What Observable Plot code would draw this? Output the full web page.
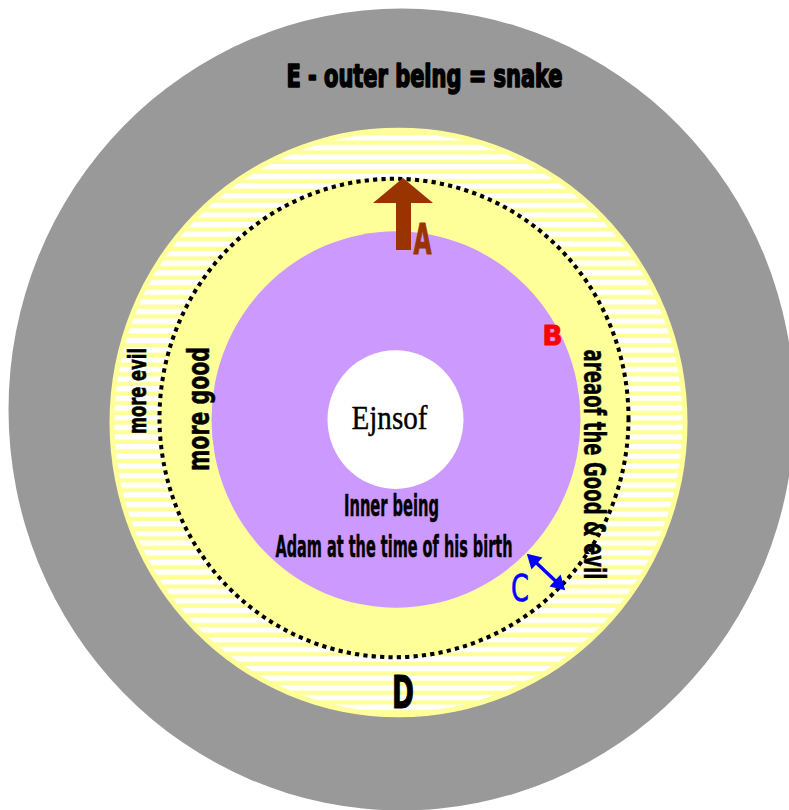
<!DOCTYPE html>
<html><head><meta charset="utf-8">
<script src="https://cdn.jsdelivr.net/npm/d3@7"></script>
<script src="https://cdn.jsdelivr.net/npm/@observablehq/plot@0.6"></script>
<style>
html,body{margin:0;padding:0;background:#fff;}
#chart svg{display:block;}
</style></head><body><div id="chart"></div>
<script>
// ---- Data (in reference pixel units) ----
const ringNames   = ["E outer being", "area of the Good & evil", "more good", "inner being", "Ejnsof"];
const ringCenterX = [401, 398, 393.5, 395.5, 395];
const ringCenterY = [409, 422, 417.5, 419, 419];
const ringRadius  = [393, 289, 234.5, 184.5, 68];
const ringColors  = ["#999999", "#ffff99", "#ffff99", "#cc99ff", "#ffffff"];
const stripeRadius = 284; // striped band of the yellow ring (inset from its edge)

// arrow A (brown, pointing up): x positions and y positions (tail, head base, tip)
const arrowAShaftX = [396, 411];
const arrowAHeadX  = [373, 403, 433];
const arrowAY      = [250, 203, 178];
// arrow C (blue, two-headed): start and end points
const arrowCX = [528, 563];
const arrowCY = [555, 588];

// labels
const labelText   = ["E - outer being = snake", "A", "B", "C", "D", "Ejnsof", "Inner being",
                     "Adam at the time of his birth", "more evil", "more good", "areaof the Good & evil"];
const labelX      = [424, 422, 552, 519.5, 402.5, 389, 391, 393.5, 145, 208, 583];
const labelY      = [86.5, 253, 344, 600, 707, 428, 515, 556, 390.5, 408.5, 464];
const labelLength = [276, 18, 20, 18, 22, 76, 95, 237, 86, 124, 230];

// ---- Build ----
const W = 789, H = 810, SVG_H = 794;
const sy = H / SVG_H;
const rings = ringNames.map((name, i) => ({name, cx: ringCenterX[i], cy: ringCenterY[i], r: ringRadius[i]}));
const stripeDisk = [{cx: ringCenterX[1], cy: ringCenterY[1], r: stripeRadius}];
const headPts = arrowAHeadX.map((x, i) => ({x, base: arrowAY[1], top: i === 1 ? arrowAY[2] : arrowAY[1]}));
const ang = Math.atan2(arrowCY[1] - arrowCY[0], arrowCX[1] - arrowCX[0]);
const headBack = 7;
const cHeads = [
  {x: arrowCX[0] + headBack * Math.cos(ang), y: arrowCY[0] + headBack * Math.sin(ang), rot: ang * 180 / Math.PI - 90},
  {x: arrowCX[1] - headBack * Math.cos(ang), y: arrowCY[1] - headBack * Math.sin(ang), rot: ang * 180 / Math.PI + 90}
];

const NARROW = "'Liberation Sans Narrow','DejaVu Sans Condensed','DejaVu Sans',sans-serif";
const SERIF = "'Liberation Serif','DejaVu Serif',serif";
function label(i, o) {
  return Plot.text([labelText[i]], {
    x: () => labelX[i], y: () => labelY[i], text: d => d,
    lineAnchor: "bottom", textAnchor: "middle", fontFamily: NARROW, fill: "#000", ...o
  });
}

const svg = Plot.plot({
  width: W, height: SVG_H, margin: 0,
  x: {type: "linear", domain: [0, W], range: [0, W], axis: null},
  y: {type: "linear", domain: [0, H], range: [0, SVG_H], axis: null},
  r: {type: "linear", domain: [0, 400], range: [0, 400]},
  color: {type: "ordinal", domain: ringNames, range: ringColors},
  marks: [
    Plot.dot(rings, {filter: (d, i) => i < 2, x: "cx", y: "cy", r: "r", fill: "name"}),
    Plot.dot(stripeDisk, {x: "cx", y: "cy", r: "r", fill: "url(#stripes)"}),
    Plot.dot(rings, {filter: (d, i) => i >= 2, x: "cx", y: "cy", r: "r", fill: "name"}),
    Plot.dot(rings, {filter: (d, i) => i === 2, x: "cx", y: "cy", r: "r", fill: "none",
      stroke: "#000", strokeWidth: 4, strokeDasharray: "4.2,4.2"}),
    // arrow A
    Plot.rect([0], {x1: () => arrowAShaftX[0], x2: () => arrowAShaftX[1], y1: () => arrowAY[1], y2: () => arrowAY[0], fill: "#993300"}),
    Plot.area(headPts, {x1: "x", y1: "base", y2: "top", fill: "#993300", curve: "linear"}),
    // arrow C
    Plot.link([0], {x1: () => cHeads[0].x, y1: () => cHeads[0].y, x2: () => cHeads[1].x, y2: () => cHeads[1].y,
      stroke: "#0000ff", strokeWidth: 3.5}),
    Plot.dot(cHeads, {x: "x", y: "y", symbol: "triangle", r: 6, rotate: "rot", fill: "#0000ff", stroke: null}),
    // labels
    label(0, {fontSize: 31, fontWeight: "bold", stroke: "#000", strokeWidth: 1.6}),
    label(1, {fontSize: 42, fontWeight: "bold", fill: "#993300", stroke: "#993300", strokeWidth: 1}),
    label(2, {fontSize: 26, fontWeight: "bold", fill: "#ff0000", stroke: "#ff0000", strokeWidth: 0.8}),
    label(3, {fontSize: 36, fill: "#0000ff", stroke: "#0000ff", strokeWidth: 0.6}),
    label(4, {fontSize: 43, fontWeight: "bold", stroke: "#000", strokeWidth: 1}),
    label(5, {fontSize: 34, fontFamily: SERIF, stroke: "#000", strokeWidth: 0.4}),
    label(6, {fontSize: 29.5, fontWeight: "bold", stroke: "#000", strokeWidth: 0.5}),
    label(7, {fontSize: 29.5, fontWeight: "bold", stroke: "#000", strokeWidth: 0.5}),
    label(8, {fontSize: 25, fontWeight: "bold", rotate: -90, stroke: "#000", strokeWidth: 0.6}),
    label(9, {fontSize: 30, fontWeight: "bold", rotate: -90, stroke: "#000", strokeWidth: 0.5}),
    label(10, {fontSize: 30, fontWeight: "bold", rotate: 90, stroke: "#000", strokeWidth: 0.4})
  ]
});

// stripe pattern for the outer band of the yellow ring
const ns = "http://www.w3.org/2000/svg";
const defs = document.createElementNS(ns, "defs");
const pat = document.createElementNS(ns, "pattern");
pat.setAttribute("id", "stripes");
pat.setAttribute("patternUnits", "userSpaceOnUse");
pat.setAttribute("x", "0"); pat.setAttribute("y", "132");
pat.setAttribute("width", "40"); pat.setAttribute("height", "9.46");
const pr = document.createElementNS(ns, "rect");
pr.setAttribute("x", "0"); pr.setAttribute("y", "0");
pr.setAttribute("width", "40"); pr.setAttribute("height", "5.2");
pr.setAttribute("fill", "#ffffff");
pat.appendChild(pr); defs.appendChild(pat);
svg.insertBefore(defs, svg.firstChild);

// fit text lengths
const vertical = new Set([8, 9, 10]);
svg.querySelectorAll("text").forEach(t => {
  const i = labelText.indexOf(t.textContent);
  if (i < 0) return;
  t.setAttribute("textLength", labelLength[i] / (vertical.has(i) ? sy : 1));
  t.setAttribute("lengthAdjust", "spacingAndGlyphs");
});

// the reference image is slightly stretched vertically
svg.setAttribute("preserveAspectRatio", "none");
svg.style.width = W + "px";
svg.style.height = H + "px";
svg.style.maxWidth = "none";
document.getElementById("chart").appendChild(svg);
</script></body></html>
